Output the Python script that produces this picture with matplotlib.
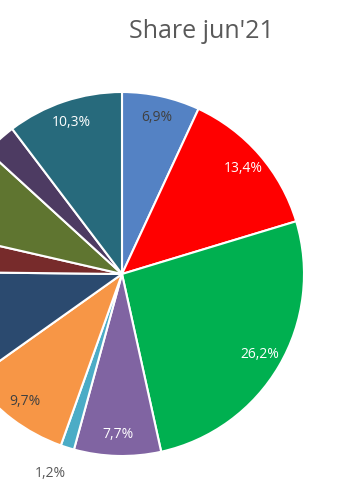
import numpy as np
import matplotlib
matplotlib.use("Agg")
import matplotlib.pyplot as plt

# slice shares (%), clockwise from 12 o'clock
shares = [6.9, 13.4, 26.2, 7.7, 1.2, 9.7, 10.0, 3.4, 8.2, 2.9, 10.3]
colors = ["#5482C4", "#FF0000", "#00B050", "#8064A2", "#4BACC6", "#F79646",
          "#2B4A6F", "#772B2B", "#5F7530", "#4D3B62", "#276A7C"]
label_colors = ["#404040", "white", "white", "white", "#595959", "#404040",
                "white", "white", "white", "white", "white"]
# label placement: inside, outside, or not visible (cut off in the reference)
label_pos = ["in", "in", "in", "in", "out", "in",
             None, None, None, None, "in"]

fig = plt.figure(figsize=(3.6, 5.04), dpi=100)
ax = fig.add_axes([0, 0, 1, 1])

R = 182.0  # radius in pixels
cx, cy = 122.0, 274.0

wedges, _ = ax.pie(shares, colors=colors, startangle=90, counterclock=False,
                   radius=1.0, center=(0, 0),
                   wedgeprops=dict(edgecolor="white", linewidth=1.5))
ax.set_xlim(-cx / R, (360 - cx) / R)
ax.set_ylim(-(504 - cy) / R, cy / R)
ax.set_aspect("equal")
ax.axis("off")

for w, v, c, pos in zip(wedges, shares, label_colors, label_pos):
    if pos is None:
        continue
    ang = np.deg2rad((w.theta1 + w.theta2) / 2)
    r = 1.15 if pos == "out" else 0.88
    x, y = r * np.cos(ang), r * np.sin(ang)
    if pos == "out":
        x -= 0.05
    ax.text(x, y, f"{v:.1f}%".replace(".", ","),
            ha="center", va="center", color=c, fontsize=10,
            family="Open Sans")

fig.text(201 / 360, 1 - 31 / 504, "Share jun'21", ha="center", va="center",
         fontsize=18, color="#595959", family="Open Sans")

fig.savefig("out.png", dpi=100)
